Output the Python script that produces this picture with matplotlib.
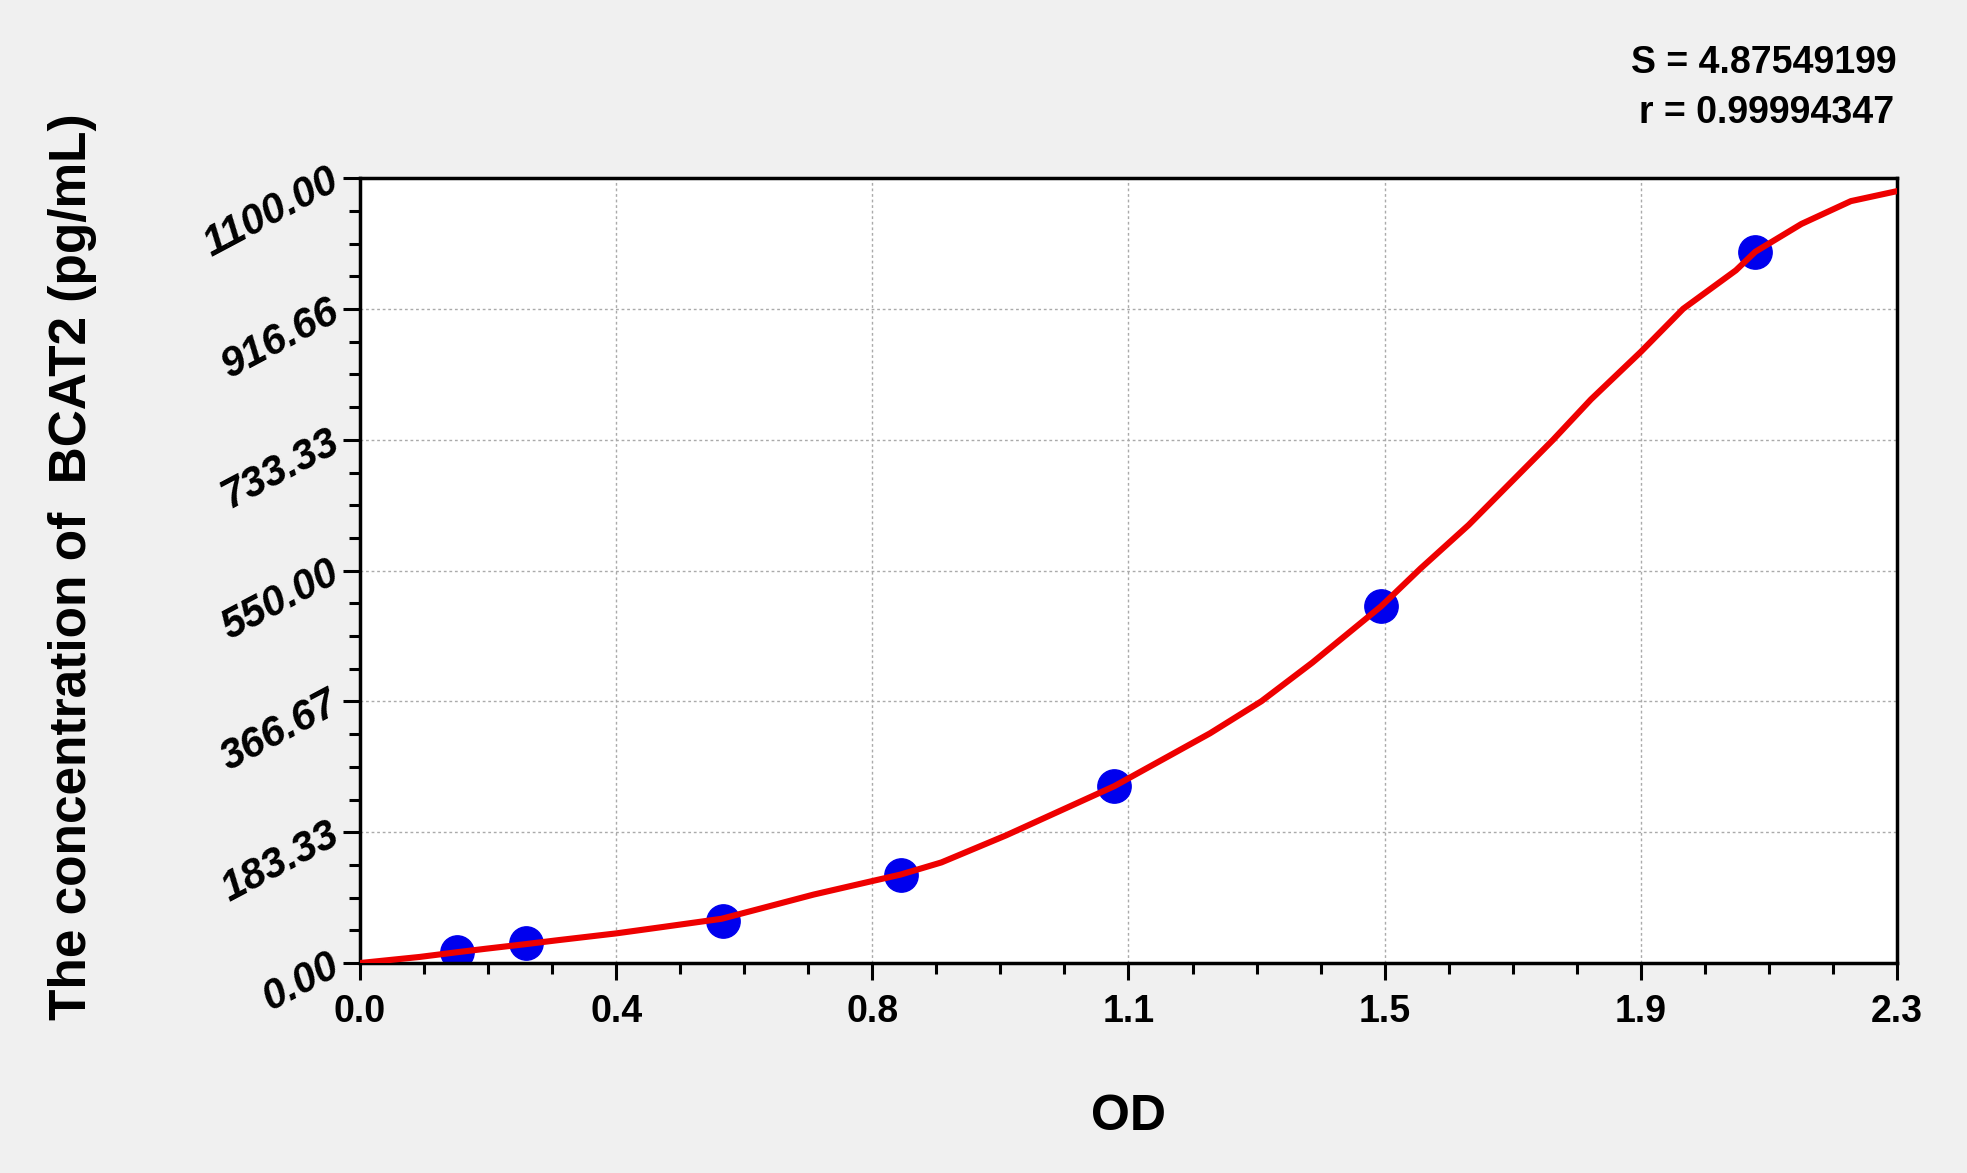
import numpy as np
import matplotlib
matplotlib.use("Agg")
import matplotlib.pyplot as plt
from matplotlib.ticker import FixedLocator, AutoMinorLocator

# standard points (OD, concentration)
od_pts = [0.145, 0.248, 0.543, 0.809, 1.129, 1.528, 2.088]
conc_pts = [15, 28, 59, 124, 248, 500, 997]

# fitted curve
curve_od = [0.0, 0.089, 0.144, 0.188, 0.248, 0.296, 0.383, 0.449, 0.541, 0.602,
            0.679, 0.767, 0.809, 0.870, 0.967, 1.129, 1.272, 1.349, 1.425, 1.528,
            1.587, 1.659, 1.785, 1.842, 1.917, 1.980, 2.059, 2.088, 2.157, 2.231, 2.30]
curve_conc = [0, 8.5, 15, 20, 26.5, 32, 41.5, 50, 62, 77,
              96, 115, 124, 141, 179, 248, 322, 367, 421, 500,
              553, 614, 733, 790, 857, 917, 971, 997, 1036, 1068, 1082]

x_ticks = [0.0, 2.3 / 6, 2 * 2.3 / 6, 3 * 2.3 / 6, 4 * 2.3 / 6, 5 * 2.3 / 6, 2.3]
x_labels = ['0.0', '0.4', '0.8', '1.1', '1.5', '1.9', '2.3']
y_ticks = [0, 1100 / 6, 2 * 1100 / 6, 3 * 1100 / 6, 4 * 1100 / 6, 5 * 1100 / 6, 1100]
y_labels = ['0.00', '183.33', '366.67', '550.00', '733.33', '916.66', '1100.00']

s_text = 'S = 4.87549199'
r_text = 'r = 0.99994347'

plt.rcParams['font.family'] = ['Liberation Sans', 'DejaVu Sans']
plt.rcParams['font.weight'] = 'bold'

fig = plt.figure(figsize=(19.67, 11.73), dpi=100, facecolor='#f0f0f0')
ax = fig.add_axes([0.183, 0.179, 0.7814, 0.669])
ax.set_facecolor('white')

ax.set_xlim(0, 2.3)
ax.set_ylim(0, 1100)

ax.grid(True, which='major', color='#aaaaaa', linestyle=(0, (2, 2)), linewidth=1)
ax.set_axisbelow(True)

ax.plot(curve_od, curve_conc, color='#ee0000', linewidth=4.4,
        solid_joinstyle='round', solid_capstyle='round', zorder=3)

ax.plot(od_pts, conc_pts, linestyle='none', marker='o',
        markersize=24, color='#0000ee', zorder=2)

ax.xaxis.set_major_locator(FixedLocator(x_ticks))
ax.yaxis.set_major_locator(FixedLocator(y_ticks))
ax.set_xticklabels(x_labels)
ax.set_yticklabels(y_labels)
ax.xaxis.set_minor_locator(AutoMinorLocator(4))
ax.yaxis.set_minor_locator(AutoMinorLocator(4))

ax.tick_params(which='major', direction='out', length=12, width=2.2, color='black')
ax.tick_params(which='minor', direction='out', length=8, width=2.2, color='black')
ax.tick_params(axis='x', pad=10)
ax.tick_params(axis='y', pad=5)

for lab in ax.get_xticklabels():
    lab.set_fontweight('bold')
    lab.set_fontsize(27)
for lab in ax.get_yticklabels():
    lab.set_fontweight('bold')
    lab.set_fontstyle('italic')
    lab.set_fontsize(30)
    lab.set_rotation(28)
    lab.set_rotation_mode('anchor')
    lab.set_ha('right')
    lab.set_va('center')

for sp in ax.spines.values():
    sp.set_linewidth(2.5)

ax.set_xlabel('OD', fontsize=36, fontweight='bold')
ax.xaxis.set_label_coords(0.5, -0.167)
ax.xaxis.label.set_va('top')
ax.set_ylabel('The concentration of  BCAT2 (pg/mL)', fontsize=37, fontweight='bold')
ax.yaxis.set_label_coords(-0.171, 0.505)

fig.text(0.9644, 0.9465, s_text, ha='right', va='center', fontsize=27, fontweight='bold')
fig.text(0.963, 0.9038, r_text, ha='right', va='center', fontsize=27, fontweight='bold')

fig.savefig('out.png', dpi=100, facecolor=fig.get_facecolor())
